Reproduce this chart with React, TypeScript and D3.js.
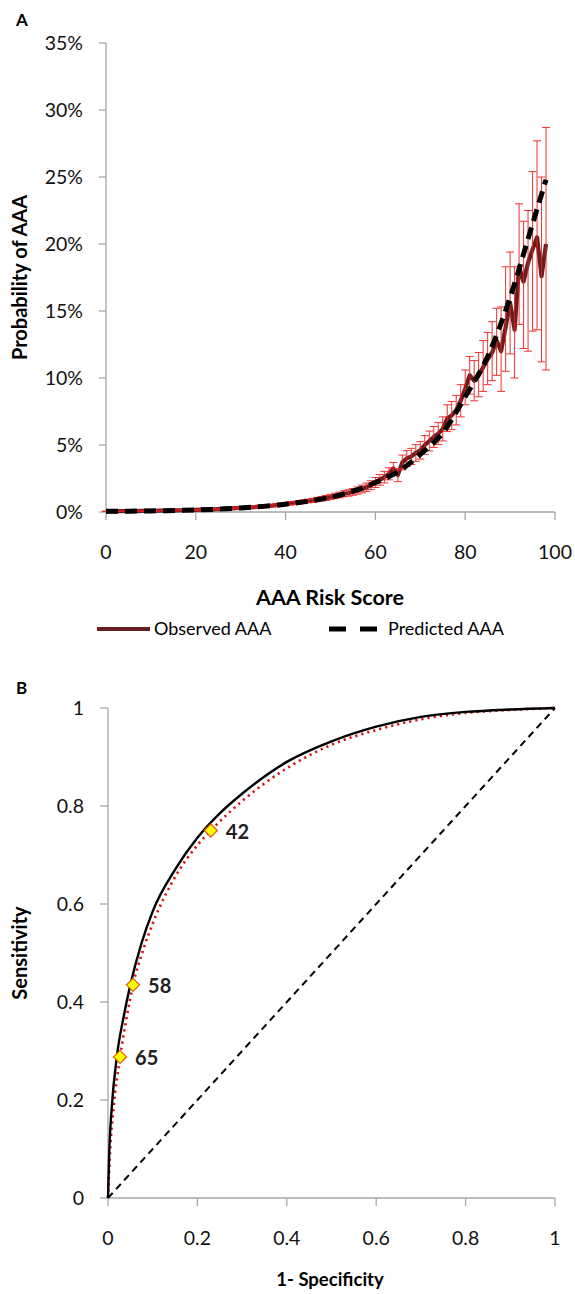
import React from 'react';
import * as d3 from 'd3';

// panel A: observed vs predicted probability of AAA by risk score
const riskScores = [
  0, 1, 2, 3, 4, 5, 6, 7, 8, 9, 10, 11, 12, 13, 14, 15, 16, 17, 18, 19,
  20, 21, 22, 23, 24, 25, 26, 27, 28, 29, 30, 31, 32, 33, 34, 35, 36, 37, 38, 39,
  40, 41, 42, 43, 44, 45, 46, 47, 48, 49, 50, 51, 52, 53, 54, 55, 56, 57, 58, 59,
  60, 61, 62, 63, 64, 65, 66, 67, 68, 69, 70, 71, 72, 73, 74, 75, 76, 77, 78, 79,
  80, 81, 82, 83, 84, 85, 86, 87, 88, 89, 90, 91, 92, 93, 94, 95, 96, 97, 98,
];
const observedPct = [
  0.05, 0.05, 0.05, 0.06, 0.06, 0.06, 0.07, 0.07, 0.08, 0.08,
  0.09, 0.09, 0.1, 0.1, 0.11, 0.12, 0.12, 0.13, 0.14, 0.15,
  0.16, 0.17, 0.18, 0.19, 0.2, 0.22, 0.23, 0.25, 0.27, 0.29,
  0.31, 0.33, 0.35, 0.37, 0.4, 0.42, 0.45, 0.48, 0.52, 0.56,
  0.6, 0.64, 0.68, 0.72, 0.77, 0.82, 0.87, 0.93, 0.99, 1.05,
  1.12, 1.2, 1.27, 1.36, 1.42, 1.5, 1.6, 1.72, 1.85, 2.0,
  2.2, 2.4, 2.6, 2.85, 3.25, 2.75, 3.7, 4.0, 4.15, 4.4,
  4.6, 5.0, 5.3, 5.6, 5.85, 6.2, 7.0, 7.2, 7.6, 8.3,
  9.2, 10.2, 9.8, 10.2, 10.8, 11.4, 11.9, 12.8, 12.0, 13.8,
  15.6, 13.6, 18.3, 17.2, 18.6, 19.6, 20.5, 17.6, 20.0,
];
const lowerPct = [
  0.03, 0.03, 0.03, 0.04, 0.04, 0.04, 0.05, 0.05, 0.06, 0.06,
  0.06, 0.06, 0.07, 0.07, 0.08, 0.09, 0.09, 0.1, 0.11, 0.12,
  0.12, 0.13, 0.14, 0.15, 0.15, 0.17, 0.18, 0.19, 0.21, 0.23,
  0.24, 0.26, 0.28, 0.29, 0.32, 0.33, 0.36, 0.38, 0.42, 0.45,
  0.49, 0.52, 0.56, 0.59, 0.63, 0.68, 0.72, 0.77, 0.82, 0.87,
  0.93, 1.0, 1.06, 1.13, 1.18, 1.25, 1.33, 1.43, 1.54, 1.67,
  1.83, 2.0, 2.17, 2.4, 2.8, 2.26, 3.15, 3.42, 3.55, 3.78,
  3.95, 4.3, 4.56, 4.82, 5.03, 5.3, 6.0, 6.15, 6.5, 7.1,
  8.0, 8.8, 8.3, 8.6, 9.0, 9.5, 9.8, 10.2, 9.0, 10.5,
  11.8, 10.0, 14.0, 12.2, 12.0, 13.5, 13.6, 11.2, 10.6,
];
const upperPct = [
  0.07, 0.07, 0.07, 0.08, 0.08, 0.08, 0.09, 0.09, 0.1, 0.1,
  0.12, 0.12, 0.13, 0.13, 0.14, 0.15, 0.15, 0.16, 0.17, 0.18,
  0.2, 0.21, 0.22, 0.23, 0.25, 0.27, 0.28, 0.31, 0.33, 0.35,
  0.38, 0.4, 0.42, 0.45, 0.48, 0.51, 0.54, 0.58, 0.62, 0.67,
  0.71, 0.76, 0.8, 0.85, 0.91, 0.96, 1.02, 1.09, 1.16, 1.23,
  1.31, 1.4, 1.48, 1.59, 1.66, 1.75, 1.87, 2.01, 2.16, 2.33,
  2.57, 2.8, 3.03, 3.3, 3.7, 3.24, 4.25, 4.58, 4.75, 5.02,
  5.25, 5.7, 6.04, 6.38, 6.67, 7.1, 8.0, 8.25, 8.7, 9.5,
  10.6, 11.6, 11.3, 11.9, 12.8, 13.4, 14.2, 15.2, 15.3, 18.3,
  19.4, 18.3, 23.0, 21.7, 22.5, 25.4, 27.7, 25.0, 28.7,
];
const predictedScores = [0, 5, 10, 15, 20, 25, 30, 35, 40, 45, 50, 55, 60, 65, 70, 75, 80, 85, 90, 95, 98];
const predictedPct = [0.05, 0.06, 0.08, 0.11, 0.15, 0.21, 0.3, 0.42, 0.58, 0.8, 1.1, 1.55, 2.2, 3.0, 4.3, 5.9, 8.6, 11.6, 16.0, 21.5, 24.8];
const pctTicks = [0, 5, 10, 15, 20, 25, 30, 35];
const scoreTicks = [0, 20, 40, 60, 80, 100];

// panel B: ROC curves
const rocFprSolid = [0, 0.003, 0.008, 0.02, 0.035, 0.05, 0.075, 0.1, 0.15, 0.2, 0.25, 0.3, 0.4, 0.5, 0.6, 0.7, 0.8, 0.9, 1];
const rocTprSolid = [0, 0.1, 0.18, 0.29, 0.37, 0.435, 0.52, 0.585, 0.67, 0.735, 0.785, 0.825, 0.89, 0.932, 0.962, 0.982, 0.992, 0.997, 1];
const rocFprDotted = [0, 0.005, 0.012, 0.027, 0.04, 0.056, 0.08, 0.1, 0.15, 0.2, 0.23, 0.3, 0.4, 0.5, 0.6, 0.7, 0.8, 0.9, 1];
const rocTprDotted = [0, 0.1, 0.18, 0.288, 0.36, 0.435, 0.51, 0.56, 0.655, 0.72, 0.75, 0.81, 0.877, 0.925, 0.955, 0.977, 0.99, 0.996, 1];
const cutoffLabels = ['42', '58', '65'];
const cutoffFpr = [0.23, 0.056, 0.027];
const cutoffTpr = [0.75, 0.435, 0.288];
const rocTicks = [0, 0.2, 0.4, 0.6, 0.8, 1];

const FONT = 'Lato, "Open Sans", sans-serif';
const AXIS = '#a6a6a6';

export default function App() {
  // A scales
  const xA = d3.scaleLinear().domain([0, 100]).range([106, 555]);
  const yA = d3.scaleLinear().domain([0, 35]).range([512, 43]);
  // B scales
  const xB = d3.scaleLinear().domain([0, 1]).range([108, 555]);
  const yB = d3.scaleLinear().domain([0, 1]).range([1198, 708]);

  const obsLine = d3
    .line<number>()
    .x((d) => xA(riskScores[d]))
    .y((d) => yA(observedPct[d]));
  const predLine = d3
    .line<number>()
    .x((d) => xA(predictedScores[d]))
    .y((d) => yA(predictedPct[d]))
    .curve(d3.curveMonotoneX);
  const rocSolid = d3
    .line<number>()
    .x((d) => xB(rocFprSolid[d]))
    .y((d) => yB(rocTprSolid[d]))
    .curve(d3.curveMonotoneX);
  const rocDotted = d3
    .line<number>()
    .x((d) => xB(rocFprDotted[d]))
    .y((d) => yB(rocTprDotted[d]))
    .curve(d3.curveMonotoneX);

  const obsIdx = riskScores.map((_, i) => i);
  const predIdx = predictedScores.map((_, i) => i);

  return (
    <svg
      width={575}
      height={1294}
      style={{ position: 'absolute', left: 0, top: 0, background: '#fff' }}
      fontFamily={FONT}
    >
      {/* ---------- panel A ---------- */}
      <text x={16} y={26} fontSize={17} fontWeight="bold">A</text>
      <line x1={xA(0)} x2={xA(0)} y1={yA(0)} y2={yA(35)} stroke={AXIS} strokeWidth={1.3} />
      <line x1={xA(0)} x2={xA(100)} y1={yA(0)} y2={yA(0)} stroke={AXIS} strokeWidth={1.3} />
      {pctTicks.map((t) => (
        <g key={'ya' + t}>
          <line x1={xA(0) - 7} x2={xA(0)} y1={yA(t)} y2={yA(t)} stroke={AXIS} strokeWidth={1.3} />
          <text x={83} y={yA(t)} dy="0.35em" fontSize={19.5} textAnchor="end" fill="#111">
            {t + '%'}
          </text>
        </g>
      ))}
      {scoreTicks.map((t) => (
        <g key={'xa' + t}>
          <line x1={xA(t)} x2={xA(t)} y1={yA(0)} y2={yA(0) + 8} stroke={AXIS} strokeWidth={1.3} />
          <text x={xA(t)} y={552} dy="0.35em" fontSize={19.5} textAnchor="middle" fill="#111">
            {t}
          </text>
        </g>
      ))}
      <text
        transform={`translate(20,${yA(17.5)}) rotate(-90)`}
        textAnchor="middle"
        dy="0.35em"
        fontSize={20}
        fontWeight="bold"
      >
        Probability of AAA
      </text>
      <text x={330} y={597} dy="0.35em" textAnchor="middle" fontSize={21.5} fontWeight="bold">
        AAA Risk Score
      </text>

      <path d={obsLine(obsIdx) || ''} fill="none" stroke="#672020" strokeWidth={4.2} strokeLinejoin="round" />
      <g stroke="#ee1c1c" strokeWidth={1} opacity={0.9}>
        {obsIdx.map((i) => {
          const x = xA(riskScores[i]);
          return (
            <g key={'eb' + i}>
              <line x1={x} x2={x} y1={yA(lowerPct[i])} y2={yA(upperPct[i])} />
              <line x1={x - 4} x2={x + 4} y1={yA(lowerPct[i])} y2={yA(lowerPct[i])} />
              <line x1={x - 4} x2={x + 4} y1={yA(upperPct[i])} y2={yA(upperPct[i])} />
            </g>
          );
        })}
      </g>
      <path d={predLine(predIdx) || ''} fill="none" stroke="#000" strokeWidth={5} strokeDasharray="12,7" />

      {/* legend */}
      <line x1={97} x2={150} y1={629} y2={629} stroke="#672020" strokeWidth={4} />
      <text x={154} y={629} dy="0.35em" fontSize={18}>Observed AAA</text>
      <line x1={329} x2={382} y1={629} y2={629} stroke="#000" strokeWidth={5} strokeDasharray="17,14" />
      <text x={388} y={629} dy="0.35em" fontSize={18}>Predicted AAA</text>

      {/* ---------- panel B ---------- */}
      <text x={16} y={694} fontSize={17} fontWeight="bold">B</text>
      <line x1={xB(0)} x2={xB(0)} y1={yB(0)} y2={yB(1)} stroke={AXIS} strokeWidth={1.3} />
      <line x1={xB(0)} x2={xB(1)} y1={yB(0)} y2={yB(0)} stroke={AXIS} strokeWidth={1.3} />
      {rocTicks.map((t) => (
        <g key={'yb' + t}>
          <line x1={xB(0) - 8} x2={xB(0)} y1={yB(t)} y2={yB(t)} stroke={AXIS} strokeWidth={1.3} />
          <text x={84} y={yB(t)} dy="0.35em" fontSize={19.5} textAnchor="end" fill="#111">
            {String(t)}
          </text>
          <line x1={xB(t)} x2={xB(t)} y1={yB(0)} y2={yB(0) + 8} stroke={AXIS} strokeWidth={1.3} />
          <text x={xB(t)} y={1238} dy="0.35em" fontSize={19.5} textAnchor="middle" fill="#111">
            {String(t)}
          </text>
        </g>
      ))}
      <text
        transform={`translate(20,${yB(0.5)}) rotate(-90)`}
        textAnchor="middle"
        dy="0.35em"
        fontSize={20}
        fontWeight="bold"
      >
        Sensitivity
      </text>
      <text x={330} y={1280} dy="0.35em" textAnchor="middle" fontSize={18.5} fontWeight="bold">
        1- Specificity
      </text>

      <line
        x1={xB(0)}
        y1={yB(0)}
        x2={xB(1)}
        y2={yB(1)}
        stroke="#000"
        strokeWidth={2}
        strokeDasharray="7,5"
      />
      <path
        d={rocDotted(rocFprDotted.map((_, i) => i)) || ''}
        fill="none"
        stroke="#d11313"
        strokeWidth={2.6}
        strokeDasharray="2.2,4"
      />
      <path
        d={rocSolid(rocFprSolid.map((_, i) => i)) || ''}
        fill="none"
        stroke="#000"
        strokeWidth={2.4}
      />
      {cutoffLabels.map((lab, i) => {
        const cx = xB(cutoffFpr[i]);
        const cy = yB(cutoffTpr[i]);
        return (
          <g key={'cut' + lab}>
            <path
              d={`M${cx},${cy - 6.5}L${cx + 6.5},${cy}L${cx},${cy + 6.5}L${cx - 6.5},${cy}Z`}
              fill="#ffff00"
              stroke="#e0601a"
              strokeWidth={1.3}
            />
            <text x={cx + 15} y={cy + 1} dy="0.35em" fontSize={20} fontWeight="bold" fill="#222">
              {lab}
            </text>
          </g>
        );
      })}
    </svg>
  );
}
